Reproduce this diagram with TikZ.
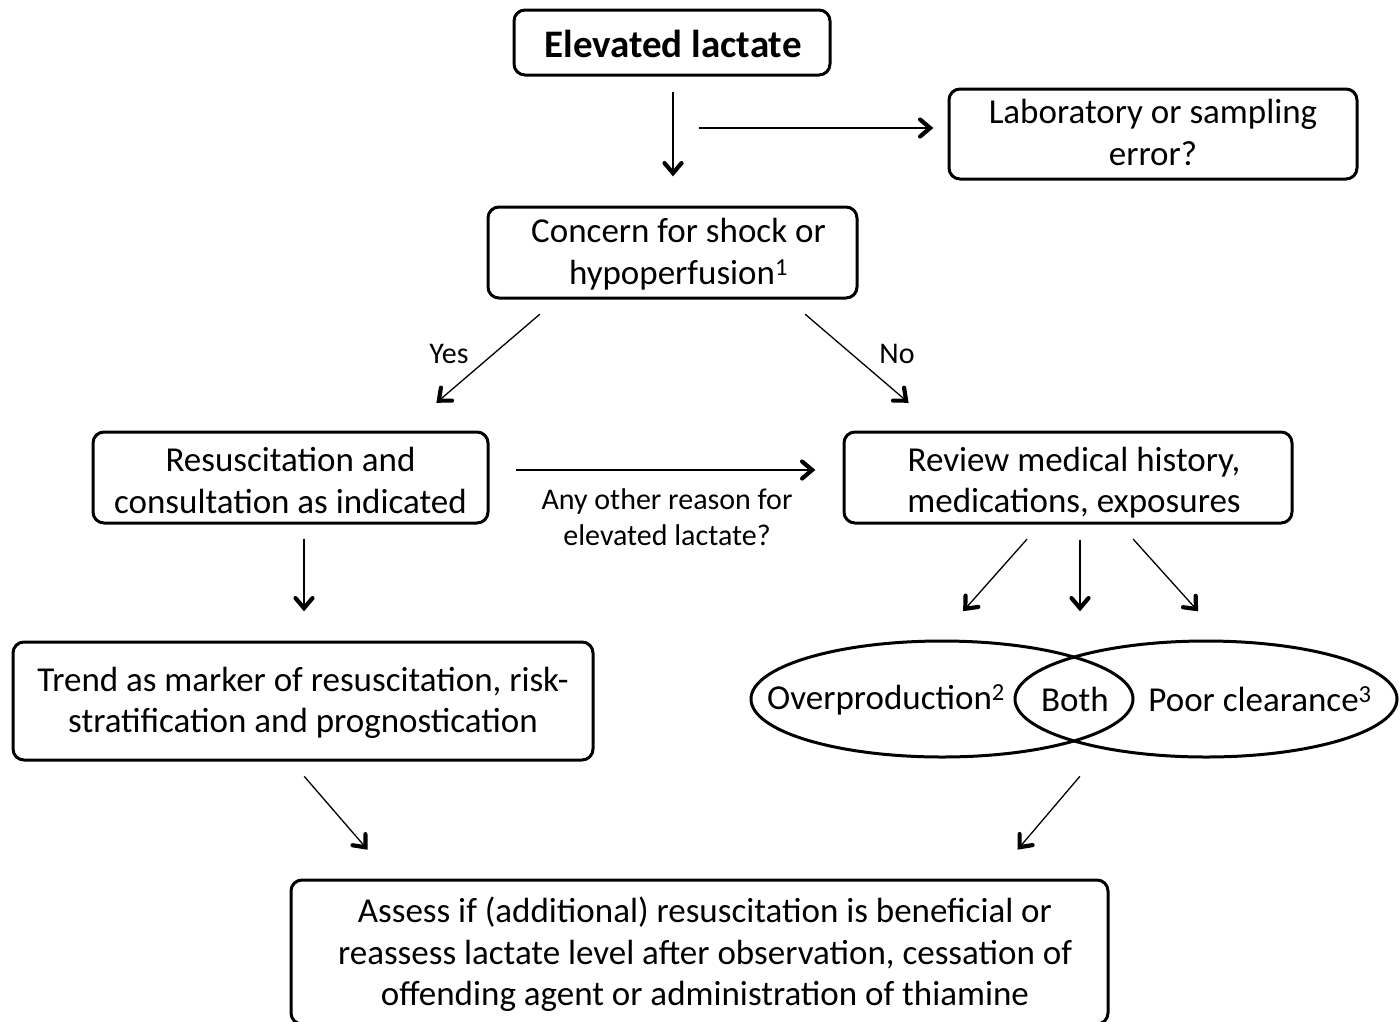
\documentclass[tikz,border=0pt]{standalone}
\usepackage{fontspec}
\setmainfont{Carlito}
\usetikzlibrary{arrows.meta,shapes.geometric}
\pgfdeclarearrow{
  name = Chev,
  parameters = {\the\pgfarrowlength,\the\pgfarrowwidth},
  setup code = {
    \pgfarrowssettipend{3.4pt}
    \pgfarrowssetlineend{-2pt}
    \pgfarrowssavethe\pgfarrowlength
    \pgfarrowssavethe\pgfarrowwidth
    \pgfarrowsupperhullpoint{-\pgfarrowlength}{.5\pgfarrowwidth}
    \pgfarrowsupperhullpoint{3.4pt}{0pt}
  },
  drawing code = {
    \pgfsetdash{}{0pt}
    \pgfsetlinewidth{4.2pt}
    \pgfsetroundcap
    \pgfsetmiterjoin
    \pgfpathmoveto{\pgfqpoint{-\pgfarrowlength}{.5\pgfarrowwidth}}
    \pgfpathlineto{\pgfqpoint{0pt}{0pt}}
    \pgfpathlineto{\pgfqpoint{-\pgfarrowlength}{-.5\pgfarrowwidth}}
    \pgfusepathqstroke
  },
  defaults = {length=10pt, width=17pt}
}
\tikzset{
  box/.style={draw, line width=3pt, rounded corners=11pt, inner sep=0pt},
  oval/.style={draw, ellipse, line width=3pt, minimum width=382pt, minimum height=116pt, inner sep=0pt},
  txt/.style={align=center, inner sep=0pt, font=\fontsize{35}{41.5}\selectfont},
  lbl/.style={align=center, inner sep=0pt, font=\fontsize{30}{36}\selectfont},
  tip/.style={-{Chev[length=10pt,width=17pt]}},
  thick arr/.style={tip, line width=2pt},
  thin arr/.style={tip, line width=1.3pt},
}
\begin{document}
\begin{tikzpicture}[x=1pt,y=-1pt]
\useasboundingbox (0,0) rectangle (1400,1021);
\clip (0,0) rectangle (1400,1021);
% boxes
\node[box, minimum width=316pt, minimum height=65pt] (elev) at (672,42.5) {};
\node[box, minimum width=408pt, minimum height=90pt] (lab) at (1153,134) {};
\node[box, minimum width=369pt, minimum height=91pt] (concern) at (672.5,252.5) {};
\node[box, minimum width=395pt, minimum height=91pt] (resus) at (290.5,477.5) {};
\node[box, minimum width=448pt, minimum height=91pt] (review) at (1068,477.5) {};
\node[box, minimum width=580pt, minimum height=118pt] (trend) at (303,701) {};
\node[box, minimum width=817pt, minimum height=144pt] (assess) at (699.5,952) {};
% box texts
\node[txt, font=\bfseries\fontsize{39}{44}\selectfont] (elevT) at (673,43.5) {Elevated lactate};
\node[txt] (labT) at (1153,132.5) {Laboratory or sampling\\error?};
\node[txt] (concernT) at (678.5,254) {Concern for shock or\\hypoperfusion\textsuperscript{1}};
\node[txt] (resusT) at (290.5,480.5) {Resuscitation and\\consultation as indicated};
\node[txt] (reviewT) at (1074,482.5) {Review medical history,\\medications, exposures};
\node[txt] (trendT) at (303,703) {Trend as marker of resuscitation, risk-\\stratification and prognostication};
\node[txt] (assessT) at (705,954.5) {Assess if (additional) resuscitation is beneficial or\\reassess lactate level after observation, cessation of\\offending agent or administration of thiamine};
% ellipses
\node[oval] (ellL) at (942,699) {};
\node[oval] (ellR) at (1206,699) {};
\node[txt] (over) at (886,700) {Overproduction\textsuperscript{2}};
\node[txt] (both) at (1075,699) {Both};
\node[txt] (poor) at (1260,699) {Poor clearance\textsuperscript{3}};
% labels
\node[lbl] (yes) at (449,354) {Yes};
\node[lbl] (no) at (897,354) {No};
\node[lbl] (other) at (667,517) {Any other reason for\\elevated lactate?};
% connectors
\coordinate (split) at (699,128);
\draw[thick arr, shorten <=15pt, shorten >=29pt] ([xshift=1pt]elev.south) -- ([xshift=0.5pt]concern.north);
\draw[thin arr, shorten >=14pt] (split) -- (lab.west |- split);
\draw[thin arr, shorten <=22.6pt, shorten >=42.5pt] ([xshift=-115.5pt]concern.south) -- ([xshift=113.5pt]resus.north);
\draw[thin arr, shorten <=22.6pt, shorten >=42.5pt] ([xshift=115.5pt]concern.south) -- ([xshift=-127pt]review.north);
\draw[thick arr, shorten <=26pt, shorten >=27pt] ([yshift=7.5pt]resus.east) -- ([yshift=7.5pt]review.west);
\draw[thick arr, shorten <=14pt, shorten >=29pt] ([xshift=13.5pt]resus.south) -- ([xshift=1pt]trend.north);
\draw[thin arr, shorten <=19.5pt, shorten >=37.7pt] ([xshift=-28pt]review.south) -- ([xshift=-4pt]ellL.north);
\draw[thick arr, shorten <=15pt, shorten >=28pt] ([xshift=12pt]review.south) -- ([xshift=12pt]review.south |- ellL.north);
\draw[thin arr, shorten <=19.5pt, shorten >=37.7pt] ([xshift=52pt]review.south) -- ([xshift=17.5pt]ellR.north);
\draw[thin arr, shorten <=19.6pt, shorten >=37.9pt] ([xshift=-11.6pt]trend.south) -- ([xshift=-307pt]assess.north);
\draw[thin arr, shorten <=23.4pt, shorten >=37.7pt] ([xshift=-111pt]ellR.south) -- ([xshift=293.5pt]assess.north);
\end{tikzpicture}
\end{document}
